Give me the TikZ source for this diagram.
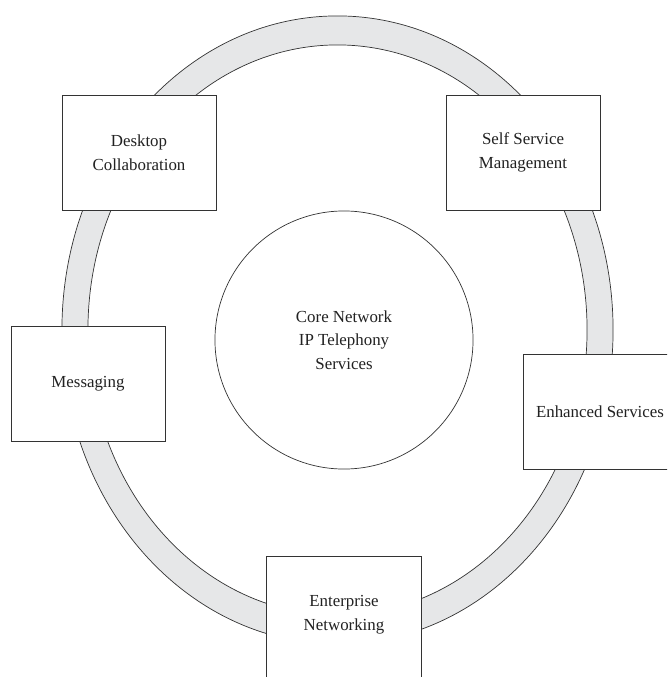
\documentclass[tikz,border=0pt]{standalone}
\usepackage{fontspec}
\setmainfont{Liberation Serif}
\usepackage{tikz}
\definecolor{ringfill}{HTML}{E6E7E8}
\definecolor{edge}{HTML}{333333}
\definecolor{ink}{HTML}{222222}

\begin{document}
\begin{tikzpicture}[
  x=0.025cm, y=-0.025cm,
  svc/.style={draw=edge, line width=0.6pt, fill=white, align=center, minimum width=3.85cm, minimum height=2.875cm, inner sep=0pt, text=ink, font=\fontsize{12}{16.8}\selectfont},
  core/.style={draw=edge, line width=0.5pt, circle, fill=white, minimum size=6.45cm, inner sep=0pt, align=center, text=ink, font=\fontsize{12}{16.8}\selectfont},
  rim/.style={draw=edge, line width=0.5pt}
]
\useasboundingbox (0,0) rectangle (667,677);
\clip (0,0) rectangle (667,677);

\fill[ringfill, even odd rule] (337.5,330) ellipse [x radius=6.8875cm, y radius=7.85cm]
  (337.5,330) ellipse [x radius=6.2375cm, y radius=7.125cm];
\draw[rim] (337.5,330) ellipse [x radius=6.8875cm, y radius=7.85cm];
\draw[rim] (337.5,330) ellipse [x radius=6.2375cm, y radius=7.125cm];

\node[core] (core) at (344,340) {Core Network\\IP Telephony\\Services};

\node[svc] (desktop) at (139,152.5) {Desktop\\Collaboration};
\node[svc] (selfsvc) at (523,152.5) {Self Service\\Management};
\node[svc] (msg) at (88,384) {Messaging};
\node[svc] (enhanced) at (600,412) {Enhanced Services};
\node[svc, draw=none] (enterprise) at (344,614.5) {Enterprise\\Networking};
\draw[line width=0.6pt, edge] ([yshift=-12pt]enterprise.south west) -- (enterprise.north west)
  -- (enterprise.north east) -- ([yshift=-12pt]enterprise.south east);
\end{tikzpicture}
\end{document}
